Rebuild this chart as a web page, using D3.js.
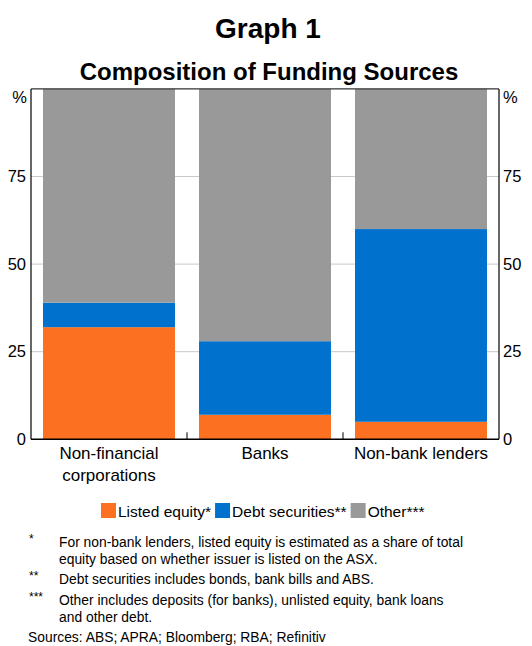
<!DOCTYPE html>
<html>
<head>
<meta charset="utf-8">
<script src="https://cdn.jsdelivr.net/npm/d3@7"></script>
<style>
  html, body { margin: 0; padding: 0; background: #fff; }
  svg { display: block; font-family: "Liberation Sans", Arial, sans-serif; }
</style>
</head>
<body>
<svg id="chart" width="532" height="646"></svg>
<script>
// Funding composition by sector, per cent of total
const categories = ["Non-financial corporations", "Banks", "Non-bank lenders"];
const listedEquity = [32, 7, 5];
const debtSecurities = [7, 21, 55];
const other = [61, 72, 40];
const seriesNames = ["Listed equity*", "Debt securities**", "Other***"];
const seriesColors = ["#FB7021", "#0072CE", "#999999"];
const yTicks = [0, 25, 50, 75];

const svg = d3.select("#chart");
const W = 532;
const margin = { left: 31, right: 33 };
const plotW = W - margin.left - margin.right;
const y0 = 439.3, y1 = 88.9;

const rows = categories.map((c, i) => ({
  cat: c, listed: listedEquity[i], debt: debtSecurities[i], other: other[i]
}));
const stack = d3.stack().keys(["listed", "debt", "other"])(rows);

const x = d3.scaleBand().domain(categories)
  .range([margin.left, margin.left + plotW])
  .paddingInner(0.154).paddingOuter(0.077);
const y = d3.scaleLinear().domain([0, 100]).range([y0, y1]);

// Titles
svg.append("text").attr("x", 268).attr("y", 38).attr("text-anchor", "middle")
  .attr("font-size", 28).attr("font-weight", "bold").text("Graph 1");
svg.append("text").attr("x", 269).attr("y", 80).attr("text-anchor", "middle")
  .attr("font-size", 24).attr("font-weight", "bold").text("Composition of Funding Sources");

// Gridlines
const xl = margin.left, xr = margin.left + plotW;
svg.append("g").selectAll("line").data(yTicks.filter(d => d > 0)).join("line")
  .attr("x1", xl).attr("x2", xr)
  .attr("y1", d => y(d)).attr("y2", d => y(d))
  .attr("stroke", "#c8c8c8").attr("stroke-width", 1);

// Stacked bars
svg.append("g").selectAll("g").data(stack).join("g")
  .attr("fill", (d, i) => seriesColors[i])
  .selectAll("rect").data(d => d).join("rect")
  .attr("x", d => x(d.data.cat))
  .attr("width", x.bandwidth())
  .attr("y", d => y(d[1]))
  .attr("height", d => y(d[0]) - y(d[1]));

// Frame: top border, side axes, baseline
svg.append("line").attr("x1", xl).attr("x2", xr).attr("y1", y1).attr("y2", y1)
  .attr("stroke", "#333").attr("stroke-width", 1.2);
svg.append("line").attr("x1", xl).attr("x2", xl).attr("y1", y1).attr("y2", y0)
  .attr("stroke", "#000").attr("stroke-width", 1.2);
svg.append("line").attr("x1", xr).attr("x2", xr).attr("y1", y1).attr("y2", y0)
  .attr("stroke", "#000").attr("stroke-width", 1.2);
svg.append("line").attr("x1", xl).attr("x2", xr).attr("y1", y0).attr("y2", y0)
  .attr("stroke", "#000").attr("stroke-width", 1.5);

// Category separator ticks on baseline
const seps = categories.slice(1).map(c => x(c) - x.step() * x.paddingInner() / 2);
svg.append("g").selectAll("line").data(seps).join("line")
  .attr("x1", d => d).attr("x2", d => d)
  .attr("y1", y0).attr("y2", y0 - 7)
  .attr("stroke", "#000").attr("stroke-width", 1);

// Y axes on both sides
const leftAxis = d3.axisLeft(y).tickValues(yTicks).tickSize(0).tickPadding(5);
const rightAxis = d3.axisRight(y).tickValues(yTicks).tickSize(0).tickPadding(4);
function styleAxis(g) {
  g.select(".domain").remove();
  g.selectAll("text").attr("font-size", 16.5).attr("fill", "#000")
    .attr("font-family", "Liberation Sans, Arial, sans-serif");
}
svg.append("g").attr("transform", `translate(${xl},0)`).call(leftAxis).call(styleAxis);
svg.append("g").attr("transform", `translate(${xr},0)`).call(rightAxis).call(styleAxis);
svg.append("text").attr("x", xl - 4).attr("y", y1 + 14).attr("text-anchor", "end")
  .attr("font-size", 16.5).text("%");
svg.append("text").attr("x", xr + 4).attr("y", y1 + 14).attr("text-anchor", "start")
  .attr("font-size", 16.5).text("%");

// Category labels
const catLines = [["Non-financial", "corporations"], ["Banks"], ["Non-bank lenders"]];
categories.forEach((c, i) => {
  const t = svg.append("text").attr("text-anchor", "middle").attr("font-size", 17)
    .attr("x", x(c) + x.bandwidth() / 2);
  catLines[i].forEach((ln, j) => {
    t.append("tspan").attr("x", x(c) + x.bandwidth() / 2).attr("y", 459 + j * 22).text(ln);
  });
});

// Legend
const legend = svg.append("g").attr("font-size", 15.5);
let lx = 101;
seriesNames.forEach((name, i) => {
  legend.append("rect").attr("x", lx).attr("y", 503).attr("width", 15).attr("height", 15)
    .attr("fill", seriesColors[i]);
  const t = legend.append("text").attr("x", lx + 17).attr("y", 517).text(name);
  lx += 17 + t.node().getComputedTextLength() + 4;
});

// Footnotes
const notes = [
  { mark: "*", lines: ["For non-bank lenders, listed equity is estimated as a share of total",
                       "equity based on whether issuer is listed on the ASX."], y: 547 },
  { mark: "**", lines: ["Debt securities includes bonds, bank bills and ABS."], y: 584 },
  { mark: "***", lines: ["Other includes deposits (for banks), unlisted equity, bank loans",
                         "and other debt."], y: 605 }
];
const nG = svg.append("g").attr("font-size", 13.85).attr("fill", "#000");
notes.forEach(n => {
  nG.append("text").attr("x", 29).attr("y", n.y - 4).attr("font-size", 12).text(n.mark);
  n.lines.forEach((ln, j) => {
    nG.append("text").attr("x", 59).attr("y", n.y + j * 17).text(ln);
  });
});
nG.append("text").attr("x", 28).attr("y", 641.5).text("Sources: ABS; APRA; Bloomberg; RBA; Refinitiv");
</script>
</body>
</html>
